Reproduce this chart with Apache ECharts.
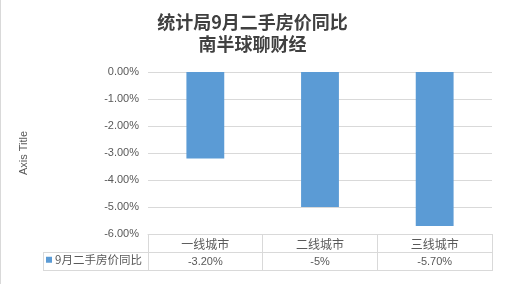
<!DOCTYPE html>
<html><head><meta charset="utf-8">
<script src="https://cdn.jsdelivr.net/npm/echarts@6/dist/echarts.min.js"></script>
<style>html,body{margin:0;padding:0;background:#fff}#c{width:505px;height:284px}</style>
</head><body><div id="c"></div>
<script>
const titleLines = ['统计局9月二手房价同比', '南半球聊财经'];
const categories = ['一线城市', '二线城市', '三线城市'];
const seriesName = '9月二手房价同比';
const values = [-3.2, -5, -5.7];
const valueLabels = ['-3.20%', '-5%', '-5.70%'];
const yTicks = { min: -6, max: 0, interval: 1 };
const axisTitle = 'Axis Title';

const G = { left: 148, right: 13, top: 72, bottom: 50 };
const W = 505, H = 284;
const gx1 = W - G.right, gy1 = H - G.bottom;
const rowH = 18;
const lineC = '#D9D9D9';
const txt = '#595959';
const font = '"Liberation Sans", Arial, "Noto Sans CJK SC", sans-serif';

const chart = echarts.init(document.getElementById('c'), null, { renderer: 'canvas' });
chart.setOption({
  animation: false,
  backgroundColor: '#fff',
  textStyle: { fontFamily: font },
  title: {
    text: titleLines.join('\n'), left: 'center', top: 6,
    textStyle: { fontFamily: '"Noto Sans CJK SC", sans-serif', fontSize: 18, fontWeight: 'bold', color: '#404040', lineHeight: 22 }
  },
  legend: {
    data: [seriesName], left: 46, top: gy1 + rowH + 2, icon: 'rect', itemWidth: 6, itemHeight: 6, itemGap: 4,
    padding: 0,
    textStyle: { fontSize: 11.5, color: txt, fontFamily: '"Noto Sans CJK SC", sans-serif', padding: [0, 0, 0, -2] }
  },
  grid: { left: G.left, right: G.right, top: G.top, bottom: G.bottom, containLabel: false },
  xAxis: [{
    type: 'category', data: categories, position: 'bottom',
    axisLine: { show: true, onZero: false, lineStyle: { color: lineC } },
    axisTick: { show: true, length: rowH * 2 + 1, lineStyle: { color: lineC } },
    axisLabel: { margin: 4, fontSize: 12, color: txt, fontFamily: '"Noto Sans CJK SC", sans-serif' }
  }, {
    type: 'category', data: valueLabels, position: 'bottom', offset: rowH,
    axisLine: { show: true, onZero: false, lineStyle: { color: lineC } },
    axisTick: { show: false },
    axisLabel: { margin: 4, fontSize: 11, color: txt }
  }],
  yAxis: {
    type: 'value', min: yTicks.min, max: yTicks.max, interval: yTicks.interval,
    name: axisTitle, nameLocation: 'middle', nameRotate: 90, nameGap: 119,
    nameTextStyle: { fontSize: 11, color: txt },
    axisLine: { show: false }, axisTick: { show: false },
    axisLabel: { margin: 9, fontSize: 11, color: txt, formatter: v => v.toFixed(2) + '%' },
    splitLine: { lineStyle: { color: lineC } }
  },
  series: [{
    name: seriesName, type: 'bar', data: values, barWidth: '33%', xAxisIndex: 0,
    itemStyle: { color: '#5B9BD5' }
  }],
  graphic: [
    { type: 'line', shape: { x1: 43, y1: gy1 + rowH + 0.5, x2: G.left, y2: gy1 + rowH + 0.5 }, style: { stroke: lineC, lineWidth: 1 } },
    { type: 'line', shape: { x1: 43, y1: gy1 + 2 * rowH + 0.5, x2: gx1, y2: gy1 + 2 * rowH + 0.5 }, style: { stroke: lineC, lineWidth: 1 } },
    { type: 'line', shape: { x1: 43.5, y1: gy1 + rowH, x2: 43.5, y2: gy1 + 2 * rowH + 1 }, style: { stroke: lineC, lineWidth: 1 } },
    { type: 'line', shape: { x1: 0.5, y1: 0, x2: 0.5, y2: H }, style: { stroke: lineC, lineWidth: 1 } }
  ]
});
</script></body></html>
